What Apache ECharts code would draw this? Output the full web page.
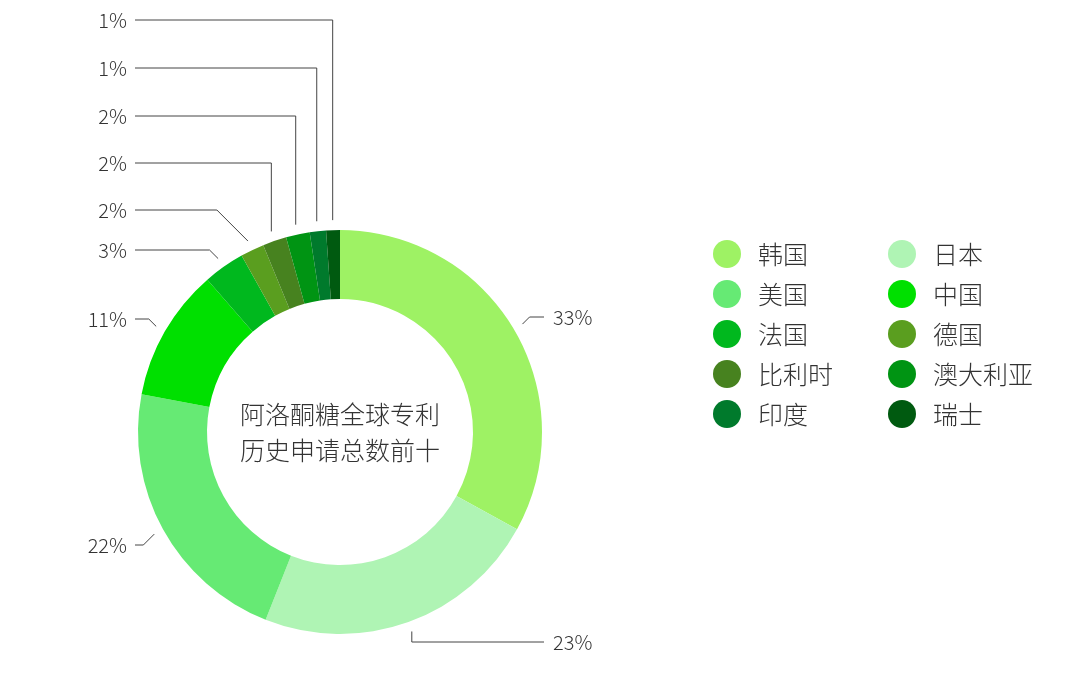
<!DOCTYPE html>
<html>
<head>
<meta charset="utf-8">
<script src="https://cdn.jsdelivr.net/npm/echarts@6/dist/echarts.min.js"></script>
<style>
  html, body { margin: 0; padding: 0; background: #fff; }
  #chart { width: 1080px; height: 673px; }
</style>
</head>
<body>
<div id="chart"></div>
<script>
// 阿洛酮糖全球专利历史申请总数前十 (share, %)
const countries = ['韩国', '日本', '美国', '中国', '法国', '德国', '比利时', '澳大利亚', '印度', '瑞士'];
const shares = [33, 23, 22, 10.6, 3.3, 1.9, 1.9, 1.9, 1.3, 1.1];
const colorList = ['#9EF264', '#AFF4B4', '#66EA74', '#00E000', '#00B81E', '#5A9E1F', '#47821F', '#009413', '#007A2C', '#005A10'];
const centerTitle = '阿洛酮糖全球专利\n历史申请总数前十';

// label placement (layout only)
const labelSide = ['right', 'right', 'left', 'left', 'left', 'left', 'left', 'left', 'left', 'left'];
const labelY = [317, 642, 545, 319, 250, 210, 163, 116, 68, 20];
const labelElbow = ['diag', 'vert', 'diag', 'diag', 'diag', 'diag', 'vert', 'vert', 'vert', 'vert'];

const pieCenter = [340, 432];
const outerR = 202;
const font = '"Noto Sans CJK SC", "Noto Sans", sans-serif';
const chart = echarts.init(document.getElementById('chart'));

const pieData = countries.map(function (name, i) {
  return { name: name, value: shares[i], itemStyle: { color: colorList[i] } };
});

function legendCol(names, left) {
  return {
    orient: 'vertical',
    left: left,
    top: 235,
    icon: 'circle',
    itemWidth: 28,
    itemHeight: 28,
    itemGap: 12,
    selectedMode: false,
    data: names,
    textStyle: { fontFamily: font, fontSize: 25, color: '#333', fontWeight: 300, padding: [0, 0, 0, 12] }
  };
}

const option = {
  backgroundColor: '#fff',
  animation: false,
  legend: [
    legendCol(countries.filter(function (c, i) { return i % 2 === 0; }), 708),
    legendCol(countries.filter(function (c, i) { return i % 2 === 1; }), 883)
  ],
  graphic: [{
    type: 'text',
    x: pieCenter[0],
    y: pieCenter[1],
    style: {
      text: centerTitle,
      x: 0, y: 0,
      align: 'center',
      verticalAlign: 'middle',
      textAlign: 'center',
      textVerticalAlign: 'middle',
      font: '300 25px ' + font,
      lineHeight: 36,
      fill: '#333'
    }
  }],
  series: [{
    type: 'pie',
    center: pieCenter,
    radius: [133, outerR],
    startAngle: 90,
    clockwise: true,
    percentPrecision: 0,
    data: pieData,
    label: {
      show: true,
      formatter: '{d}%',
      fontFamily: font,
      fontSize: 20,
      fontWeight: 300,
      color: '#333'
    },
    labelLine: {
      show: true,
      length: 15,
      length2: 15,
      lineStyle: { color: '#444', width: 1 }
    },
    labelLayout: function (p) {
      const i = p.dataIndex;
      const pts = p.labelLinePoints;
      if (!pts) return {};
      let dx = pts[0][0] - pieCenter[0];
      let dy = pts[0][1] - pieCenter[1];
      const len = Math.sqrt(dx * dx + dy * dy) || 1;
      dx /= len; dy /= len;
      const sx = pieCenter[0] + dx * (outerR + 10);
      const sy = pieCenter[1] + dy * (outerR + 10);
      const ly = labelY[i];
      const left = labelSide[i] === 'left';
      const endX = left ? 135 : 544;
      let ex;
      if (labelElbow[i] === 'vert') {
        ex = sx;
      } else {
        ex = sx + (left ? -1 : 1) * Math.abs(sy - ly);
      }
      return {
        x: left ? 127 : 553,
        y: ly,
        align: left ? 'right' : 'left',
        verticalAlign: 'middle',
        labelLinePoints: [[sx, sy], [ex, ly], [endX, ly]]
      };
    }
  }]
};

chart.setOption(option);
</script>
</body>
</html>
